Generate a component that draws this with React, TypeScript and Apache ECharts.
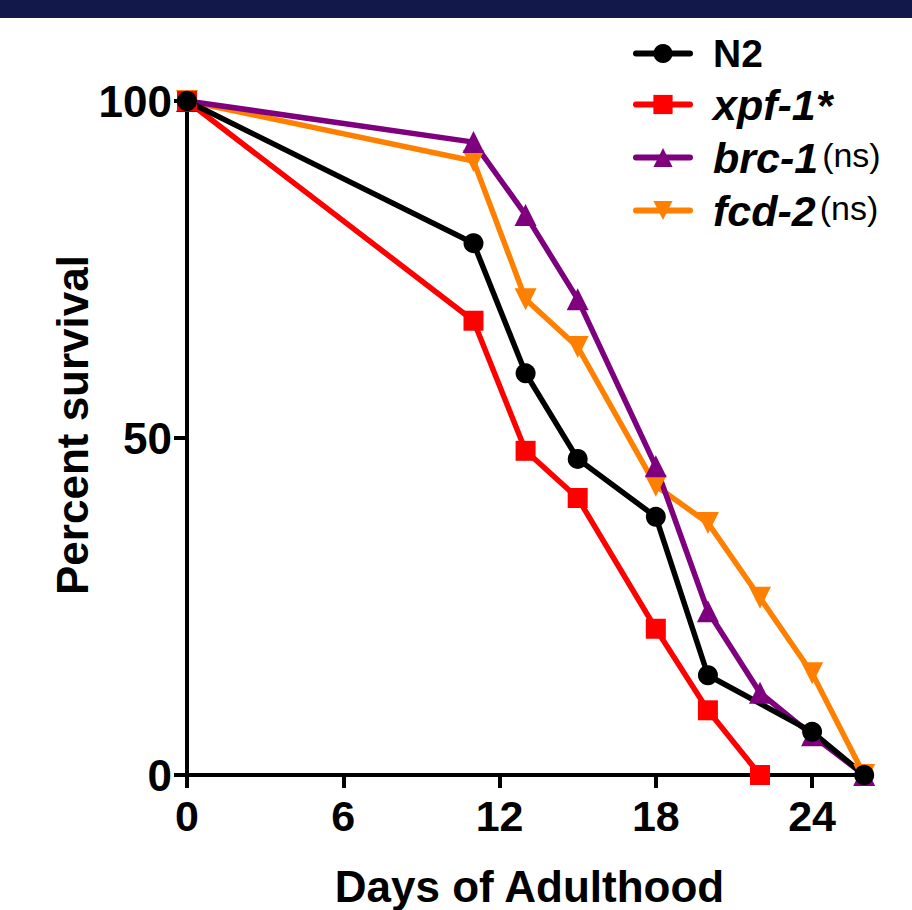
import React, { useEffect, useRef } from "react";
import * as echarts from "echarts";

const days = [0, 11, 13, 15, 18, 20, 22, 24, 26];
const n2 = [100, 78.9, 59.6, 46.9, 38.3, 14.8, null, 6.4, 0];
const xpf1 = [100, 67.4, 48.1, 41.1, 21.7, 9.6, 0, null, null];
const brc1 = [100, 93.9, 83.1, 70.6, 45.8, 24.3, 12.2, 5.9, 0];
const fcd2 = [100, 91.1, 70.6, 63.5, 42.9, 37.4, 26.3, 15.1, 0];
const xTicks = [0, 6, 12, 18, 24];

const FONT = "Liberation Sans";

function pairs(vals: (number | null)[]) {
  const out: [number, number][] = [];
  vals.forEach((v, i) => {
    if (v !== null) out.push([days[i], v]);
  });
  return out;
}

export default function App() {
  const ref = useRef<HTMLDivElement>(null);
  useEffect(() => {
    document.body.style.margin = "0";
    document.body.style.overflow = "hidden";
    const chart = echarts.init(ref.current!, undefined, { renderer: "svg" });
    const mk = (name: string, data: (number | null)[], color: string, symbol: string, size: number, rotate = 0) => ({
      name,
      type: "line",
      data: pairs(data),
      symbol,
      symbolSize: size,
      symbolRotate: rotate,
      lineStyle: { color, width: 5.5 },
      itemStyle: { color },
      color,
    });
    chart.setOption({
      animation: false,
      backgroundColor: "#ffffff",
      textStyle: { fontFamily: FONT },
      graphic: [
        { type: "rect", left: 0, top: 0, shape: { width: 912, height: 18 }, style: { fill: "#13184b" } },
        {
          type: "text",
          x: 72,
          y: 425,
          rotation: Math.PI / 2,
          style: {
            text: "Percent survival",
            fontFamily: FONT,
            fontWeight: "bold",
            fontSize: 44,
            fill: "#000",
            align: "center",
            verticalAlign: "middle",
          },
        },
      ],
      grid: { left: 187, top: 101, right: 40, bottom: 135, outerBoundsMode: "none", containLabel: false },
      legend: {
        orient: "vertical",
        left: 628,
        top: 29,
        itemWidth: 54,
        itemHeight: 24,
        itemGap: 10,
        lineStyle: { width: 6, cap: "round" },
        data: ["N2", "xpf-1*", "brc-1", "fcd-2"],
        formatter: (name: string) => {
          if (name === "N2") return "{b|N2}";
          if (name === "xpf-1*") return "{bi|xpf-1*}";
          return `{bi|${name}}{ns|(ns)}`;
        },
        textStyle: {
          rich: {
            b: { fontFamily: FONT, fontWeight: "bold", fontSize: 39, lineHeight: 40, color: "#000", padding: [0, 0, 0, 18] },
            bi: { fontFamily: FONT, fontWeight: "bold", fontStyle: "italic", fontSize: 43, lineHeight: 40, color: "#000", padding: [0, 0, 0, 18] },
            ns: { fontFamily: FONT, fontWeight: "normal", fontSize: 34, lineHeight: 40, color: "#000", verticalAlign: "top", padding: [0, 0, 0, 4] },
          },
        },
      },
      xAxis: {
        type: "value",
        min: 0,
        max: 26.3,
        interval: 6,
        name: "Days of Adulthood",
        nameLocation: "middle",
        nameGap: 89,
        nameTextStyle: { fontFamily: FONT, fontWeight: "bold", fontSize: 44, color: "#000" },
        axisLine: { lineStyle: { color: "#000", width: 4 } },
        axisTick: { length: 13, lineStyle: { color: "#000", width: 4 }, customValues: xTicks },
        axisLabel: { customValues: xTicks, fontFamily: FONT, fontWeight: "bold", fontSize: 43, color: "#000", margin: 19 },
        splitLine: { show: false },
      },
      yAxis: {
        type: "value",
        min: 0,
        max: 100,
        interval: 50,
        axisLine: { show: true, lineStyle: { color: "#000", width: 4 } },
        axisTick: { show: true, length: 13, lineStyle: { color: "#000", width: 4 } },
        axisLabel: { fontFamily: FONT, fontWeight: "bold", fontSize: 44, color: "#000", margin: 15 },
        splitLine: { show: false },
      },
      series: [
        mk("fcd-2", fcd2, "#ff8000", "triangle", 22, 180),
        mk("brc-1", brc1, "#7f007f", "triangle", 22),
        mk("xpf-1*", xpf1, "#ff0000", "rect", 20),
        mk("N2", n2, "#000000", "circle", 20),
      ],
    });
    return () => chart.dispose();
  }, []);
  return <div ref={ref} style={{ width: 912, height: 910 }} />;
}
